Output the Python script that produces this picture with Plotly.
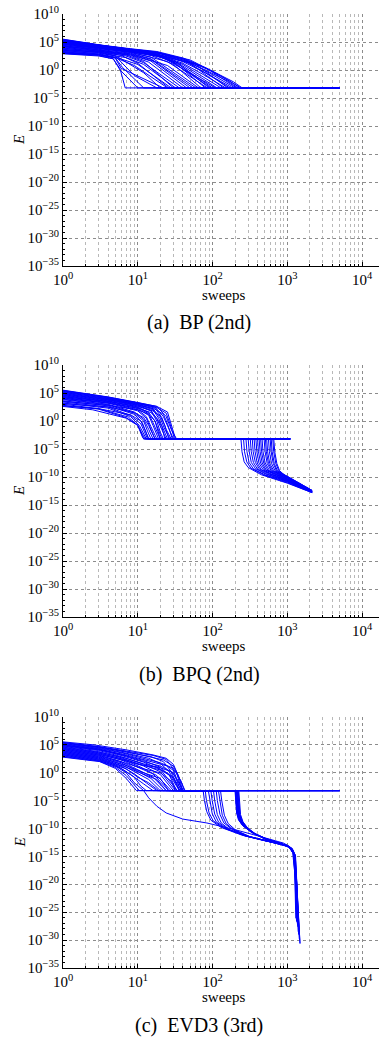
import plotly.graph_objects as go

# ---------------- data ----------------
# (a) BP (2nd): every run ends on the plateau and is extended to the last sweep
bp_x = [
    [1, 3, 8, 18, 41, 84, 190, 250],
    [1, 3, 8, 18, 40, 80, 170, 235],
    [1, 3, 8, 18, 40, 80, 160, 220],
    [1, 3, 8, 20, 45, 90, 200],
    [1, 3, 8, 20, 45, 90, 185],
    [1, 3, 8, 18, 40, 80, 170],
    [1, 3, 8, 18, 40, 75, 150],
    [1, 3, 8, 18, 40, 130],
    [1, 3, 8, 18, 35, 115],
    [1, 3, 8, 18, 35, 100],
    [1, 3, 8, 15, 30, 90],
    [1, 3, 8, 15, 30, 80],
    [1, 3, 8, 15, 30, 70],
    [1, 3, 8, 15, 60],
    [1, 3, 8, 15, 55],
    [1, 3, 8, 15, 50],
    [1, 3, 8, 15, 45],
    [1, 3, 8, 14, 40],
    [1, 3, 7, 12, 36],
    [1, 3, 7, 12, 32],
    [1, 3, 8, 20, 110],
    [1, 3, 8, 25, 95],
    [1, 3, 8, 25, 85],
    [1, 3, 8, 25, 65],
    [1, 3, 5, 10, 28],
    [1, 3, 5, 9, 25],
    [1, 3, 5, 6, 22],
    [1, 3, 4.7, 5.8, 6.8],
    [1, 3, 4.7, 5.8, 10],
    [1, 3, 5, 6.5, 9, 18],
    [1, 3, 5, 7, 12, 20],
    [1, 3, 6, 10, 26],
    [1, 3, 7, 12, 30],
    [1, 3, 5, 6.2, 12],
    [1, 3, 8, 18, 40, 90, 210],
    [1, 3, 8, 18, 50, 120, 240],
    [1, 3, 8, 20, 50, 140],
    [1, 3, 8, 20, 60, 160],
]
bp_E = [
    [3.2e5, 3.2e4, 6.3e3, 2.0e3, 1.3e2, 2.0, 7.9e-3, 6.3e-4],
    [2.5e5, 2.8e4, 5.6e3, 1.6e3, 1.0e2, 2.5, 1.0e-2, 6.3e-4],
    [2.0e5, 2.5e4, 5.0e3, 1.3e3, 63, 1.0, 1.0e-2, 6.3e-4],
    [1.6e5, 2.2e4, 4.5e3, 1.0e3, 40, 0.32, 6.3e-4],
    [1.0e5, 2.0e4, 4.0e3, 7.9e2, 25, 0.13, 6.3e-4],
    [7.9e4, 1.6e4, 3.5e3, 7.9e2, 32, 0.32, 6.3e-4],
    [5.0e4, 1.3e4, 3.2e3, 6.3e2, 16, 0.16, 6.3e-4],
    [4.0e4, 1.0e4, 2.5e3, 5.0e2, 10, 6.3e-4],
    [2.5e4, 7.9e3, 2.0e3, 4.0e2, 16, 6.3e-4],
    [2.0e4, 6.3e3, 1.6e3, 3.2e2, 10, 6.3e-4],
    [2.8e5, 3.2e4, 5.0e3, 1.3e3, 63, 6.3e-4],
    [1.3e5, 2.0e4, 3.2e3, 7.9e2, 32, 6.3e-4],
    [6.3e4, 1.3e4, 2.0e3, 4.0e2, 10, 6.3e-4],
    [3.2e4, 7.9e3, 1.3e3, 2.0e2, 6.3e-4],
    [1.6e4, 5.0e3, 1.0e3, 1.0e2, 6.3e-4],
    [1.0e4, 3.2e3, 7.9e2, 79, 6.3e-4],
    [6.3e3, 2.5e3, 5.0e2, 40, 6.3e-4],
    [4.0e3, 2.0e3, 4.0e2, 25, 6.3e-4],
    [3.2e3, 1.6e3, 3.2e2, 20, 6.3e-4],
    [2.0e3, 1.0e3, 1.6e2, 10, 6.3e-4],
    [2.2e5, 2.8e4, 4.0e3, 3.2e2, 6.3e-4],
    [1.1e5, 1.8e4, 2.8e3, 1.0e2, 6.3e-4],
    [4.5e4, 1.0e4, 1.6e3, 32, 6.3e-4],
    [1.3e4, 4.0e3, 6.3e2, 6.3, 6.3e-4],
    [1.6e3, 7.9e2, 2.0e2, 10, 6.3e-4],
    [1.3e3, 6.3e2, 1.6e2, 6.3, 6.3e-4],
    [1.0e3, 5.0e2, 1.3e2, 2.0, 6.3e-4],
    [8.9e2, 4.0e2, 1.0e2, 1.6, 6.3e-4],
    [7.9e2, 3.2e2, 1.0e2, 1.0, 6.3e-4],
    [2.5e3, 1.3e3, 3.2e2, 10, 0.1, 6.3e-4],
    [5.0e3, 1.6e3, 4.0e2, 25, 0.32, 6.3e-4],
    [7.9e3, 2.5e3, 4.0e2, 16, 6.3e-4],
    [1.8e4, 4.0e3, 5.0e2, 32, 6.3e-4],
    [1.1e3, 5.6e2, 1.6e2, 3.2, 6.3e-4],
    [1.8e5, 2.4e4, 5.0e3, 1.4e3, 1.0e2, 1.0, 6.3e-4],
    [1.4e5, 2.0e4, 4.5e3, 1.3e3, 63, 0.16, 6.3e-4],
    [8.9e4, 1.6e4, 3.2e3, 5.0e2, 16, 6.3e-4],
    [5.6e4, 1.3e4, 2.5e3, 4.0e2, 10, 6.3e-4],
]
bp_last_sweep = 5000

# (b) BPQ (2nd): first phase (heads) and second phase (tails)
bpq_head_x = [
    [1, 4, 10, 18, 24, 28, 33],
    [1, 4, 10, 17, 22, 26, 30],
    [1, 4, 10, 17, 21, 24, 28],
    [1, 4, 10, 16, 20, 23, 27],
    [1, 4, 10, 16, 19, 22, 25],
    [1, 4, 10, 15, 18, 21, 24],
    [1, 4, 10, 15, 18, 20, 22],
    [1, 4, 10, 14, 17, 21],
    [1, 4, 10, 14, 16, 20],
    [1, 4, 10, 14, 16, 19],
    [1, 4, 10, 13, 15, 18],
    [1, 4, 10, 13, 15, 17],
    [1, 4, 9, 12, 14, 16],
    [1, 4, 9, 12, 13.5, 15],
    [1, 4, 9, 11.5, 14],
    [1, 4, 8, 11, 13.5],
    [1, 4, 8, 10.5, 13],
    [1, 3, 7.5, 10, 12.5],
    [1, 3, 7, 10, 12],
    [1, 2.5, 7, 10, 11.5, 12],
    [1, 4, 10, 18, 25, 28, 32],
    [1, 4, 10, 18, 24, 27, 31],
    [1, 4, 10, 17, 22, 25, 29],
    [1, 4, 10, 16, 20, 23, 26],
    [1, 4, 10, 15, 18, 21, 23],
    [1, 4, 10, 14, 17, 20],
    [1, 4, 9, 12, 14, 17],
    [1, 3, 8, 11, 12.5, 14],
]
bpq_head_E = [
    [3.2e5, 2.0e4, 2.0e3, 4.0e2, 6.3, 3.2e-2, 6.3e-4],
    [2.5e5, 1.6e4, 1.6e3, 3.2e2, 6.3, 3.2e-2, 6.3e-4],
    [2.0e5, 1.3e4, 1.3e3, 2.0e2, 4.0, 3.2e-2, 6.3e-4],
    [1.6e5, 1.0e4, 1.0e3, 1.6e2, 3.2, 3.2e-2, 6.3e-4],
    [1.0e5, 7.9e3, 7.9e2, 1.0e2, 3.2, 3.2e-2, 6.3e-4],
    [7.9e4, 6.3e3, 6.3e2, 79, 2.5, 3.2e-2, 6.3e-4],
    [5.0e4, 5.0e3, 5.0e2, 63, 1.0, 1.0e-2, 6.3e-4],
    [4.0e4, 4.0e3, 3.2e2, 32, 1.0, 6.3e-4],
    [3.2e4, 3.2e3, 2.5e2, 20, 0.5, 6.3e-4],
    [2.5e4, 2.5e3, 1.6e2, 10, 0.16, 6.3e-4],
    [1.6e4, 2.0e3, 1.0e2, 6.3, 0.1, 6.3e-4],
    [1.3e4, 1.6e3, 63, 3.2, 3.2e-2, 6.3e-4],
    [7.9e3, 1.0e3, 40, 2.0, 3.2e-2, 6.3e-4],
    [6.3e3, 7.9e2, 25, 1.0, 1.6e-2, 6.3e-4],
    [4.0e3, 5.0e2, 16, 0.5, 6.3e-4],
    [2.5e3, 3.2e2, 10, 0.32, 6.3e-4],
    [1.6e3, 2.0e2, 6.3, 0.16, 6.3e-4],
    [1.0e3, 1.6e2, 5.0, 0.16, 6.3e-4],
    [6.3e2, 1.3e2, 4.0, 0.2, 6.3e-4],
    [4.0e2, 1.0e2, 3.2, 0.16, 1.6e-3, 6.3e-4],
    [2.8e5, 1.8e4, 1.8e3, 4.0e2, 40, 0.32, 6.3e-4],
    [1.3e5, 1.0e4, 1.3e3, 2.5e2, 25, 0.32, 6.3e-4],
    [6.3e4, 6.3e3, 7.9e2, 1.3e2, 16, 0.32, 6.3e-4],
    [2.0e4, 3.2e3, 4.0e2, 63, 7.9, 0.16, 6.3e-4],
    [1.0e4, 1.6e3, 2.0e2, 32, 3.2, 0.1, 6.3e-4],
    [3.2e3, 6.3e2, 1.0e2, 16, 1.0, 6.3e-4],
    [1.3e3, 3.2e2, 32, 4.0, 0.16, 6.3e-4],
    [5.0e2, 1.6e2, 13, 1.0, 2.5e-2, 6.3e-4],
]
bpq_tail_x = [
    [240, 248, 265, 300, 450, 1000, 2150],
    [260, 268, 287, 325, 480, 1000, 2150],
    [280, 289, 308, 350, 500, 1000, 2150],
    [300, 310, 330, 375, 520, 1000, 2150],
    [320, 330, 352, 400, 540, 1000, 2150],
    [340, 350, 374, 425, 560, 1000, 2150],
    [360, 371, 396, 450, 580, 1000, 2150],
    [380, 392, 418, 475, 600, 1000, 2150],
    [400, 412, 440, 500, 620, 1000, 2150],
    [420, 433, 462, 525, 640, 1000, 2150],
    [440, 453, 484, 550, 660, 1000, 2150],
    [460, 474, 506, 575, 690, 1000, 2150],
    [490, 505, 539, 610, 720, 1000, 2150],
    [510, 525, 561, 635, 750, 1000, 2150],
    [530, 546, 583, 660, 770, 1000, 2150],
    [560, 577, 616, 690, 800, 1000, 2150],
    [590, 608, 649, 720, 830, 1000, 2150],
    [610, 628, 671, 740, 850, 1000, 2150],
    [640, 659, 704, 770, 870, 1000, 2150],
    [660, 680, 726, 790, 890, 1000, 2150],
    [1100], [1100], [1100], [1100], [1100], [1100], [1100], [1100],
]
bpq_tail_E = [
    [6.3e-4, 3.2e-6, 5.0e-8, 5.0e-9, 2.5e-10, 7.9e-12, 1.6e-13],
    [6.3e-4, 3.2e-6, 5.0e-8, 4.0e-9, 2.5e-10, 1.0e-11, 1.6e-13],
    [6.3e-4, 3.2e-6, 4.0e-8, 3.2e-9, 2.5e-10, 1.3e-11, 1.8e-13],
    [6.3e-4, 3.2e-6, 4.0e-8, 3.2e-9, 3.2e-10, 1.6e-11, 2.0e-13],
    [6.3e-4, 3.2e-6, 4.0e-8, 2.5e-9, 3.2e-10, 1.8e-11, 2.0e-13],
    [6.3e-4, 3.2e-6, 4.0e-8, 2.5e-9, 4.0e-10, 2.0e-11, 2.0e-13],
    [6.3e-4, 3.2e-6, 3.2e-8, 2.0e-9, 4.0e-10, 2.5e-11, 2.2e-13],
    [6.3e-4, 3.2e-6, 3.2e-8, 2.0e-9, 4.0e-10, 2.8e-11, 2.2e-13],
    [6.3e-4, 3.2e-6, 3.2e-8, 2.0e-9, 5.0e-10, 3.2e-11, 2.5e-13],
    [6.3e-4, 3.2e-6, 3.2e-8, 1.6e-9, 5.0e-10, 4.0e-11, 2.5e-13],
    [6.3e-4, 3.2e-6, 3.2e-8, 1.6e-9, 5.0e-10, 4.5e-11, 2.5e-13],
    [6.3e-4, 3.2e-6, 3.2e-8, 1.6e-9, 5.0e-10, 5.0e-11, 2.8e-13],
    [6.3e-4, 3.2e-6, 2.5e-8, 1.3e-9, 5.0e-10, 6.3e-11, 2.8e-13],
    [6.3e-4, 3.2e-6, 2.5e-8, 1.3e-9, 5.0e-10, 7.1e-11, 3.2e-13],
    [6.3e-4, 3.2e-6, 2.5e-8, 1.3e-9, 5.0e-10, 7.9e-11, 3.2e-13],
    [6.3e-4, 3.2e-6, 2.5e-8, 1.3e-9, 5.0e-10, 8.9e-11, 3.2e-13],
    [6.3e-4, 3.2e-6, 2.5e-8, 1.3e-9, 4.0e-10, 1.0e-10, 3.5e-13],
    [6.3e-4, 3.2e-6, 2.5e-8, 1.3e-9, 4.0e-10, 1.1e-10, 3.5e-13],
    [6.3e-4, 3.2e-6, 2.5e-8, 1.3e-9, 3.2e-10, 1.3e-10, 4.0e-13],
    [6.3e-4, 3.2e-6, 2.5e-8, 1.3e-9, 3.2e-10, 1.3e-10, 4.0e-13],
    [6.3e-4], [6.3e-4], [6.3e-4], [6.3e-4], [6.3e-4], [6.3e-4], [6.3e-4], [6.3e-4],
]

# (c) EVD3 (3rd): first phase (heads) and second phase (tails)
evd_head_x = [
    [1, 2.6, 7, 16, 24, 30, 36, 43],
    [1, 3, 7, 16, 24, 29, 34, 41],
    [1, 3, 7, 15, 22, 27, 32, 39],
    [1, 3, 7, 14, 20, 26, 37],
    [1, 3, 6, 12, 20, 28, 36],
    [1, 3, 6, 12, 20, 34],
    [1, 3, 6, 12, 20, 32],
    [1, 3, 6, 12, 20, 30],
    [1, 3, 6, 11, 18, 28],
    [1, 3, 6, 10, 16, 26],
    [1, 3, 6, 10, 16, 24],
    [1, 3, 6, 10, 15, 22],
    [1, 3, 6, 9, 14, 20],
    [1, 3, 6, 9, 13, 18],
    [1, 3, 5, 8, 12, 16],
    [1, 3, 5, 7, 9, 12],
    [1, 3, 5, 7, 10.5],
    [1, 3.1, 5, 7, 9.6],
    [1, 3, 7, 12, 20, 30, 38, 42],
    [1, 3, 7, 12, 20, 30, 38],
    [1, 3, 7, 12, 20, 28, 35, 40],
    [1, 3, 7, 12, 20, 30, 36],
    [1, 3, 7, 10, 18, 26, 33],
    [1, 3, 7, 12, 20, 28, 32],
    [1, 3, 7, 12, 20, 26],
    [1, 3, 7, 12, 18, 24],
    [1, 3, 7, 10, 14, 19],
    [1, 3, 7, 14, 22, 30, 35, 40],
    [1, 3, 6, 9, 11, 13],
    [1, 3, 7, 13, 18, 25, 33, 39],
]
evd_head_E = [
    [3.5e5, 1.0e5, 1.3e4, 1.6e3, 4.0e2, 32, 0.1, 6.3e-4],
    [2.5e5, 5.0e4, 7.9e3, 1.3e3, 2.5e2, 10, 3.2e-2, 6.3e-4],
    [2.0e5, 4.0e4, 5.0e3, 7.9e2, 1.0e2, 3.2, 3.2e-2, 6.3e-4],
    [1.6e5, 3.2e4, 3.2e3, 4.0e2, 50, 2.0, 6.3e-4],
    [1.0e5, 2.0e4, 2.0e3, 1.6e2, 10, 0.16, 6.3e-4],
    [7.9e4, 1.6e4, 1.3e3, 79, 4.0, 6.3e-4],
    [5.0e4, 1.0e4, 7.9e2, 32, 1.6, 6.3e-4],
    [4.0e4, 6.3e3, 5.0e2, 16, 0.5, 6.3e-4],
    [2.5e4, 4.0e3, 3.2e2, 10, 0.32, 6.3e-4],
    [1.6e4, 2.5e3, 2.0e2, 10, 0.63, 6.3e-4],
    [1.0e4, 1.6e3, 1.0e2, 4.0, 0.16, 6.3e-4],
    [6.3e3, 1.0e3, 63, 2.0, 0.1, 6.3e-4],
    [4.0e3, 6.3e2, 32, 1.6, 6.3e-2, 6.3e-4],
    [2.5e3, 4.0e2, 16, 0.63, 1.6e-2, 6.3e-4],
    [1.6e3, 2.5e2, 25, 0.5, 1.0e-2, 6.3e-4],
    [1.0e3, 1.6e2, 16, 1.0, 1.6e-2, 6.3e-4],
    [7.9e2, 1.3e2, 10, 0.32, 6.3e-4],
    [6.3e2, 1.0e2, 6.3, 0.1, 6.3e-4],
    [1.3e5, 2.5e4, 2.5e3, 3.2e2, 63, 6.3, 3.2e-2, 6.3e-4],
    [6.3e4, 1.3e4, 1.0e3, 1.0e2, 16, 1.0, 6.3e-4],
    [3.2e4, 5.0e3, 4.0e2, 40, 7.9, 1.6, 3.2e-2, 6.3e-4],
    [2.0e4, 3.2e3, 2.0e2, 20, 3.2, 0.16, 6.3e-4],
    [1.3e4, 2.0e3, 1.3e2, 32, 10, 0.63, 6.3e-4],
    [7.9e3, 1.3e3, 50, 5.0, 1.0, 3.2e-2, 6.3e-4],
    [5.0e3, 7.9e2, 20, 1.0, 0.1, 6.3e-4],
    [3.2e3, 5.0e2, 10, 0.5, 6.3e-2, 6.3e-4],
    [2.0e3, 3.2e2, 5.0, 0.16, 1.6e-2, 6.3e-4],
    [2.8e5, 4.5e4, 6.3e3, 7.9e2, 2.0e2, 16, 0.32, 6.3e-4],
    [1.3e3, 2.0e2, 6.3, 0.16, 4.0e-3, 6.3e-4],
    [8.9e4, 1.6e4, 1.6e3, 1.6e2, 40, 16, 1.0, 6.3e-4],
]
evd_tail_x = [
    [75, 78, 84, 95, 130, 250, 500, 1000, 1180, 1260, 1300],
    [200, 203, 210, 222, 250, 320, 500, 800, 1100, 1220, 1290, 1320],
    [202, 205, 212, 225, 254, 325, 505, 810, 1110, 1230, 1300, 1340],
    [204, 207, 214, 228, 258, 330, 510, 820, 1120, 1240, 1310, 1360],
    [80, 83, 90, 102, 140, 260, 520, 1000, 1200, 1280, 1330],
    [206, 209, 216, 230, 262, 335, 515, 830, 1130, 1250, 1320, 1380],
    [208, 211, 218, 233, 266, 340, 520, 840, 1140, 1260, 1330, 1400],
    [210, 213, 221, 236, 270, 345, 525, 850, 1150, 1270, 1340, 1420],
    [88, 92, 99, 112, 150, 270, 540, 1020, 1220, 1300, 1360],
    [212, 215, 223, 239, 274, 350, 530, 860, 1160, 1280, 1350, 1440],
    [214, 217, 225, 242, 278, 355, 535, 870, 1170, 1290, 1360, 1460],
    [216, 219, 227, 245, 282, 360, 540, 880, 1100, 1210, 1270, 1300],
    [95, 99, 107, 121, 160, 280, 560, 1040, 1230, 1310, 1380],
    [218, 221, 230, 248, 286, 365, 545, 890, 1120, 1230, 1300, 1350],
    [221, 224, 233, 252, 290, 370, 550, 900, 1140, 1250, 1320, 1390],
    [225, 228, 237, 256, 295, 380, 560, 910, 1160, 1280, 1370, 1480],
    [12, 14, 18, 24, 40, 84, 200, 400, 890, 1100, 1230, 1280, 1310],
    [5000],
    [103, 107, 116, 131, 170, 290, 580, 1050, 1240, 1320, 1400],
    [5000],
    [5000],
    [5000],
    [112, 116, 126, 142, 185, 300, 600, 1060, 1250, 1330, 1420],
    [5000],
    [5000],
    [5000],
    [120, 125, 135, 152, 195, 310, 620, 1070, 1260, 1340, 1450],
    [5000],
    [128, 133, 144, 162, 205, 320, 640, 1080, 1270, 1350, 1480],
    [5000],
]
evd_tail_E = [
    [6.3e-4, 1.0e-5, 1.0e-7, 3.2e-9, 1.6e-10, 6.3e-12, 6.3e-13, 1.0e-13, 6.3e-15, 1.0e-18, 7.9e-27],
    [6.3e-4, 1.0e-5, 6.3e-8, 4.0e-9, 4.0e-10, 3.2e-11, 2.0e-12, 2.5e-13, 4.0e-14, 3.2e-15, 1.0e-18, 1.0e-25],
    [6.3e-4, 1.0e-5, 6.3e-8, 3.2e-9, 3.2e-10, 2.5e-11, 1.6e-12, 2.5e-13, 4.0e-14, 2.5e-15, 1.0e-19, 1.0e-26],
    [6.3e-4, 1.0e-5, 5.0e-8, 3.2e-9, 3.2e-10, 2.5e-11, 1.6e-12, 2.0e-13, 3.2e-14, 2.5e-15, 1.0e-19, 4.0e-27],
    [6.3e-4, 1.0e-5, 6.3e-8, 2.5e-9, 1.3e-10, 6.3e-12, 6.3e-13, 1.0e-13, 4.0e-15, 1.0e-19, 2.0e-27],
    [6.3e-4, 1.0e-5, 5.0e-8, 3.2e-9, 2.5e-10, 2.0e-11, 1.6e-12, 2.0e-13, 3.2e-14, 2.0e-15, 1.0e-20, 5.0e-28],
    [6.3e-4, 1.0e-5, 5.0e-8, 2.5e-9, 2.5e-10, 2.0e-11, 1.3e-12, 2.0e-13, 3.2e-14, 2.0e-15, 1.0e-20, 1.0e-27],
    [6.3e-4, 1.0e-5, 4.0e-8, 2.5e-9, 2.5e-10, 1.6e-11, 1.3e-12, 1.6e-13, 2.5e-14, 1.6e-15, 1.0e-21, 1.0e-28],
    [6.3e-4, 1.0e-5, 5.0e-8, 1.6e-9, 1.0e-10, 5.0e-12, 5.0e-13, 7.9e-14, 3.2e-15, 1.0e-20, 1.0e-27],
    [6.3e-4, 1.0e-5, 4.0e-8, 2.5e-9, 2.0e-10, 1.6e-11, 1.0e-12, 1.6e-13, 2.5e-14, 1.6e-15, 1.0e-21, 1.0e-29],
    [6.3e-4, 1.0e-5, 4.0e-8, 2.0e-9, 2.0e-10, 1.3e-11, 1.0e-12, 1.6e-13, 2.5e-14, 1.3e-15, 1.0e-22, 1.0e-30],
    [6.3e-4, 1.0e-5, 4.0e-8, 2.0e-9, 2.0e-10, 1.3e-11, 1.0e-12, 1.3e-13, 3.2e-14, 3.2e-15, 1.0e-18, 1.0e-24],
    [6.3e-4, 1.0e-5, 4.0e-8, 1.3e-9, 7.9e-11, 5.0e-12, 5.0e-13, 7.9e-14, 2.5e-15, 1.0e-21, 2.5e-28],
    [6.3e-4, 1.0e-5, 3.2e-8, 2.0e-9, 1.6e-10, 1.3e-11, 7.9e-13, 1.3e-13, 3.2e-14, 2.5e-15, 1.0e-19, 3.2e-26],
    [6.3e-4, 1.0e-5, 3.2e-8, 1.6e-9, 1.6e-10, 1.0e-11, 7.9e-13, 1.3e-13, 2.5e-14, 2.0e-15, 1.0e-20, 2.0e-27],
    [6.3e-4, 1.0e-5, 3.2e-8, 1.6e-9, 1.3e-10, 1.0e-11, 6.3e-13, 1.3e-13, 2.5e-14, 1.3e-15, 1.0e-22, 2.5e-31],
    [6.3e-4, 3.2e-5, 1.0e-6, 6.3e-8, 5.0e-9, 1.0e-9, 6.3e-11, 5.0e-12, 2.5e-13, 5.0e-14, 3.2e-15, 1.0e-17, 3.2e-25],
    [6.3e-4],
    [6.3e-4, 1.0e-5, 3.2e-8, 1.0e-9, 6.3e-11, 4.0e-12, 4.0e-13, 6.3e-14, 2.0e-15, 1.0e-20, 3.2e-29],
    [6.3e-4],
    [6.3e-4],
    [6.3e-4],
    [6.3e-4, 1.0e-5, 3.2e-8, 1.0e-9, 6.3e-11, 4.0e-12, 4.0e-13, 6.3e-14, 1.6e-15, 1.0e-19, 1.0e-29],
    [6.3e-4],
    [6.3e-4],
    [6.3e-4],
    [6.3e-4, 1.0e-5, 2.5e-8, 7.9e-10, 5.0e-11, 4.0e-12, 4.0e-13, 5.0e-14, 1.3e-15, 1.0e-20, 1.6e-30],
    [6.3e-4],
    [6.3e-4, 1.0e-5, 2.5e-8, 7.9e-10, 5.0e-11, 3.2e-12, 3.2e-13, 5.0e-14, 1.0e-15, 1.0e-21, 2.5e-31],
    [6.3e-4],
]

# ticks and labels
x_tick_vals = [1, 10, 100, 1000, 10000]
x_tick_text = ["10<sup>0</sup>", "10<sup>1</sup>", "10<sup>2</sup>", "10<sup>3</sup>", "10<sup>4</sup>"]
y_tick_vals = [1e10, 1e5, 1e0, 1e-5, 1e-10, 1e-15, 1e-20, 1e-25, 1e-30, 1e-35]
y_tick_text = ["10<sup>10</sup>", "10<sup>5</sup>", "10<sup>0</sup>", "10<sup>\u22125</sup>",
               "10<sup>\u221210</sup>", "10<sup>\u221215</sup>", "10<sup>\u221220</sup>",
               "10<sup>\u221225</sup>", "10<sup>\u221230</sup>", "10<sup>\u221235</sup>"]
x_minor_vals = [m * 10 ** k for k in range(0, 5) for m in range(2, 10)]
y_minor_vals = [10.0 ** k for k in range(-35, 11) if k % 5 != 0]
captions = ["(a)\u00a0\u00a0BP (2nd)", "(b)\u00a0\u00a0BPQ (2nd)", "(c)\u00a0\u00a0EVD3 (3rd)"]
x_title = "sweeps"
y_title = "<i>E</i>"

# ---------------- figure ----------------
W, H = 379, 1041
FONT = "Liberation Serif, Times New Roman, serif"
BLUE = "#0000ff"


def join(hx, hE, tx, tE):
    xs, ys = [], []
    for a, b, c, d in zip(hx, hE, tx, tE):
        xs += list(a) + list(c) + [None]
        ys += list(b) + list(d) + [None]
    return xs, ys


bp_tx = [[bp_last_sweep] for _ in bp_x]
bp_tE = [[e[-1]] for e in bp_E]
panels = [
    join(bp_x, bp_E, bp_tx, bp_tE),
    join(bpq_head_x, bpq_head_E, bpq_tail_x, bpq_tail_E),
    join(evd_head_x, evd_head_E, evd_tail_x, evd_tail_E),
]

# pixel rows of the plot areas (top, bottom)
rows = [(14, 266), (365, 617), (717, 968)]
x_left = 63

fig = go.Figure()
layout = dict(
    width=W, height=H, margin=dict(l=0, r=0, t=0, b=0, autoexpand=False),
    paper_bgcolor="white", plot_bgcolor="white", showlegend=False,
    font=dict(family=FONT, color="black"),
)
annotations = []
for i, ((xs, ys), (top, bot)) in enumerate(zip(panels, rows)):
    n = "" if i == 0 else str(i + 1)
    fig.add_trace(go.Scatter(x=xs, y=ys, mode="lines", xaxis="x" + n, yaxis="y" + n,
                             line=dict(color=BLUE, width=1), connectgaps=False,
                             hoverinfo="skip"))
    ydom = [1 - bot / H, 1 - top / H]
    layout["xaxis" + n] = dict(
        type="log", range=[0, 4.227], domain=[x_left / W, 1], anchor="y" + n,
        automargin=False,
        showline=True, linecolor="black", linewidth=1, mirror=False,
        ticks="inside", ticklen=4, tickcolor="black", tickwidth=1,
        tickmode="array", tickvals=x_tick_vals, ticktext=x_tick_text,
        tickfont=dict(family=FONT, size=15, color="black"),
        showgrid=True, gridcolor="#8c8c8c", griddash="dot", gridwidth=1,
        minor=dict(tickmode="array", tickvals=x_minor_vals, ticks="inside", ticklen=2,
                   tickcolor="black", showgrid=True, gridcolor="#b8b8b8",
                   griddash="dot", gridwidth=1),
        zeroline=False,
    )
    layout["yaxis" + n] = dict(
        type="log", range=[-35, 10], domain=ydom, anchor="x" + n,
        automargin=False,
        showline=True, linecolor="black", linewidth=1, mirror=False,
        ticks="inside", ticklen=4, tickcolor="black", tickwidth=1,
        tickmode="array", tickvals=y_tick_vals, ticktext=y_tick_text,
        tickfont=dict(family=FONT, size=15, color="black"),
        showgrid=True, gridcolor="#8c8c8c", griddash="dot", gridwidth=1,
        minor=dict(tickmode="array", tickvals=y_minor_vals, ticks="inside", ticklen=2,
                   tickcolor="black", showgrid=False),
        zeroline=False,
    )
    mid = (top + bot) / 2
    annotations.append(dict(text=y_title, x=19 / W, y=1 - mid / H, xref="paper",
                            yref="paper", showarrow=False, textangle=-90,
                            xanchor="center", yanchor="middle",
                            font=dict(family=FONT, size=15, color="black")))
    annotations.append(dict(text=x_title, x=223 / W, y=1 - (bot + 29) / H, xref="paper",
                            yref="paper", showarrow=False, xanchor="center", yanchor="middle",
                            font=dict(family=FONT, size=15, color="black")))
    annotations.append(dict(text=captions[i], x=199 / W, y=1 - (bot + 57) / H, xref="paper",
                            yref="paper", showarrow=False, xanchor="center", yanchor="middle",
                            font=dict(family=FONT, size=20, color="black")))
layout["annotations"] = annotations
fig.update_layout(**layout)
# remove the page's default 8px body margin so the figure fills the window exactly
fig.write_html("out.html",
               config={"displayModeBar": False, "staticPlot": True},
               post_script="document.body.style.margin='0';document.body.style.overflow='hidden';")
